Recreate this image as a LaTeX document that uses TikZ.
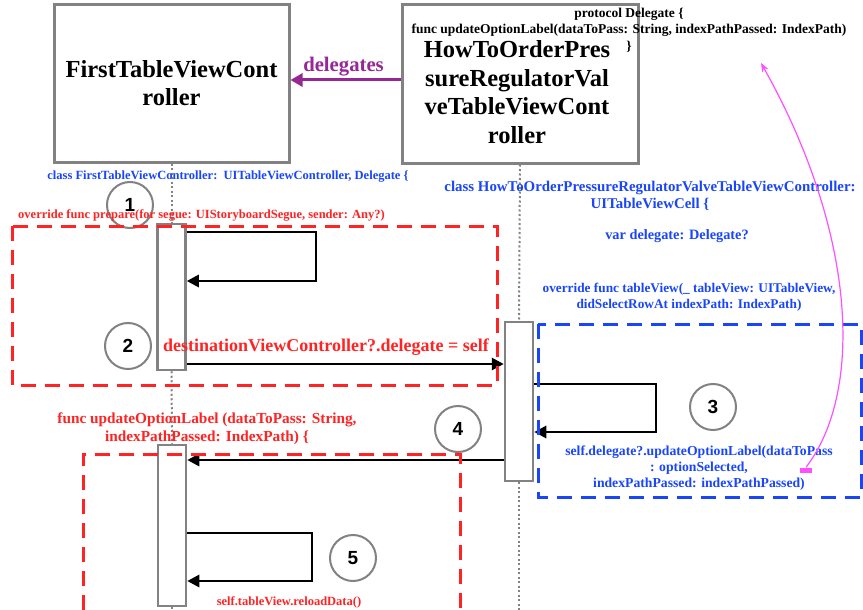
\documentclass[tikz,border=0pt]{standalone}
\usepackage{fontspec}
\setmainfont{Liberation Serif}
\setsansfont{Liberation Sans}
\usetikzlibrary{arrows.meta}
\definecolor{codered}{RGB}{255,35,35}
\definecolor{codeblue}{RGB}{25,70,250}
\definecolor{delpurple}{RGB}{150,40,150}
\definecolor{linkpink}{RGB}{255,80,255}
\definecolor{boxgray}{RGB}{130,130,130}
\begin{document}
\begin{tikzpicture}[x=1pt,y=-1pt,
  box/.style={draw=boxgray,line width=3pt,minimum width=235pt,minimum height=157pt,align=center,font=\bfseries\fontsize{24.5}{28}\selectfont},
  bar/.style={draw=boxgray,line width=2.5pt,fill=white,minimum width=28pt,inner sep=0pt},
  life/.style={boxgray,line width=2pt,dash pattern=on 2pt off 2.5pt},
  msg/.style={line width=2.8pt,-{Triangle[length=12pt,width=12pt]}},
  num/.style={circle,draw=boxgray,line width=2pt,minimum size=46pt,inner sep=0pt,font=\sffamily\bfseries\fontsize{19}{19}\selectfont},
  zone/.style={line width=3pt,dash pattern=on 15pt off 9pt},
  code/.style={inner sep=0pt,align=center,font=\bfseries\fontsize{12.5}{16}\selectfont}]
\useasboundingbox (0,0) rectangle (863,610);
\fill[white] (0,0) rectangle (863,610);
% the two controllers
\node [box] (first) at (171.5,83.5) {FirstTableViewCont\\roller};
\node [box,minimum width=236pt,minimum height=158pt] (second) at (520,84) {};
\node [align=center,font=\bfseries\fontsize{24.5}{28.5}\selectfont] (secondname) at (517,92)
  {HowToOrderPres\\sureRegulatorVal\\veTableViewCont\\roller};
\node [code,font=\bfseries\fontsize{13.5}{16.5}\selectfont] (proto) at (629,30)
  {protocol Delegate \{\\func updateOptionLabel(dataToPass: String, indexPathPassed: IndexPath)\\\}};
\draw [delpurple,line width=3pt,-{Triangle[length=12pt,width=13pt]}] (second.west |- 0,80) -- (first.east |- 0,80);
\node [delpurple,font=\bfseries\fontsize{20.7}{20}\selectfont] (deltext) at (343.5,67) {delegates};
% activations
\node [bar,minimum height=146pt] (bar1) at (171.5,297) {};
\node [bar,minimum height=159pt] (bar2) at (519,401.5) {};
\node [bar,minimum height=161pt] (bar3) at (172,525.5) {};
\coordinate (end1) at (172,610);
\coordinate (end2) at (519,610);
\draw [life] (first.south) -- (bar1.north);
\draw [life] (bar1.south) -- (bar3.north);
\draw [life] (bar3.south) -- (end1);
\draw [life] (second.south) -- (bar2.north);
\draw [life] (bar2.south) -- (end2);
% code notes
\node [code,codeblue] (firstclass) at (228,177) {class FirstTableViewController:~~UITableViewController, Delegate \{};
\node [num] (n1) at (130,205) {1};
\node [code,codered] (prepare) at (201.5,215) {override func prepare(for segue: UIStoryboardSegue, sender: Any?)};
\node [code,codeblue,font=\bfseries\fontsize{14.9}{17}\selectfont] (secondclass) at (650,196)
  {class HowToOrderPressureRegulatorValveTableViewController:\\UITableViewCell \{};
\node [code,codeblue,font=\bfseries\fontsize{14.3}{17}\selectfont] (vardel) at (677,236) {var delegate: Delegate?};
\node [code,codeblue,font=\bfseries\fontsize{13.3}{16}\selectfont] (didselect) at (689,297)
  {override func tableView(\_ tableView: UITableView,\\didSelectRowAt indexPath: IndexPath)};
% step 1 and 2
\coordinate (loop1) at (316,232);
\draw [msg] (bar1.east |- loop1) -| (316,281) -- (bar1.east |- 0,281);
\node [num] (n2) at (128,346) {2};
\draw [msg] (bar1.east |- 0,364) -- (bar2.west |- 0,364);
\node [codered,inner sep=0pt,font=\bfseries\fontsize{18}{18}\selectfont] (settext) at (326,347) {destinationViewController?.delegate = self};
\draw [zone,codered] (12,226) rectangle (497,385);
% step 3
\coordinate (loop3) at (656,384);
\draw [msg] (bar2.east |- loop3) -| (656,432) -- (bar2.east |- 0,432);
\node [num] (n3) at (713,407) {3};
\node [code,codeblue,font=\bfseries\fontsize{13.7}{16}\selectfont] (calltext) at (699,468)
  {self.delegate?.updateOptionLabel(dataToPass\\: optionSelected,\\indexPathPassed: indexPathPassed)};
\draw [zone,codeblue] (538,324) rectangle (861,497);
\node [fill=linkpink,inner sep=0pt,minimum width=12pt,minimum height=5pt] (pinkmark) at (806,470) {};
\coordinate (protoend) at (761,63);
\draw [linkpink,line width=1.2pt,-{Stealth[length=9pt,width=7pt]}] (pinkmark.north) .. controls (865,390) and (855,230) .. (protoend);
% step 4 and 5
\node [num] (n4) at (458,429) {4};
\draw [msg] (bar2.west |- 0,460) -- (bar3.east |- 0,460);
\node [code,codered,font=\bfseries\fontsize{15.3}{18}\selectfont] (functext) at (207,428.5)
  {func updateOptionLabel (dataToPass: String,\\indexPathPassed: IndexPath) \{};
\coordinate (loop5) at (312,533);
\draw [msg] (bar3.east |- loop5) -| (312,581) -- (bar3.east |- 0,581);
\node [num] (n5) at (353,558) {5};
\node [code,codered,font=\bfseries\fontsize{12.5}{12}\selectfont] (reload) at (289,602) {self.tableView.reloadData()};
\draw [zone,codered] (83,610) -- (83,454) -- (460,454) -- (460,610);
\end{tikzpicture}
\end{document}
